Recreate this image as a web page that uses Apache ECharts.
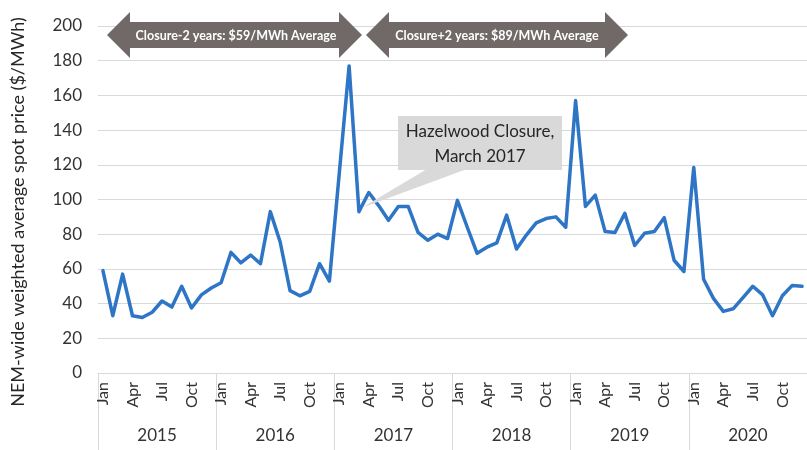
<!DOCTYPE html>
<html>
<head>
<meta charset="utf-8">
<script src="https://cdn.jsdelivr.net/npm/echarts@6/dist/echarts.min.js"></script>
<style>
  html, body { margin: 0; padding: 0; background: #fff; }
  #chart { width: 807px; height: 450px; }
</style>
</head>
<body>
<div id="chart"></div>
<script>
// Monthly NEM-wide weighted average spot price, 2015-2020 ($/MWh)
const years = ['2015', '2016', '2017', '2018', '2019', '2020'];
const monthNames = ['Jan', 'Feb', 'Mar', 'Apr', 'May', 'Jun', 'Jul', 'Aug', 'Sep', 'Oct', 'Nov', 'Dec'];
const price2015 = [59, 33, 57, 33, 32, 35, 41.5, 38, 50, 37.5, 45, 49];
const price2016 = [52, 69.5, 63.5, 68, 63, 93, 75.5, 47.5, 44.5, 47, 63, 53];
const price2017 = [115, 177, 93, 104, 96.5, 88, 96, 96, 81, 76.5, 80, 77.5];
const price2018 = [99.5, 84, 69, 72.5, 75, 91, 71.5, 79.5, 86.5, 89, 90, 84];
const price2019 = [157, 96, 102.5, 81.5, 81, 92, 73.5, 80.5, 81.5, 89.5, 65, 58.5];
const price2020 = [118.5, 54, 43, 35.5, 37, 43.5, 50, 45, 33, 44.5, 50.5, 50];
const yTicks = { min: 0, max: 200, step: 20 };
const closureLabel = ['Hazelwood Closure,', 'March 2017'];
const beforeLabel = 'Closure-2 years: $59/MWh Average';
const afterLabel = 'Closure+2 years: $89/MWh Average';

const prices = [].concat(price2015, price2016, price2017, price2018, price2019, price2020);
const monthKeys = [];
years.forEach(y => monthNames.forEach((m, i) => monthKeys.push(y + '-' + (i + 1))));

const FONT = 'Lato, "Noto Sans", sans-serif';
const GRID_COLOR = '#d9d9d9';
const TEXT_COLOR = '#333333';
const ARROW_COLOR = '#716868';

const chart = echarts.init(document.getElementById('chart'), null, { renderer: 'canvas' });

function arrowPoints(x0, x1, cy) {
  const head = 23, halfHead = 23, halfBody = 13;
  return [
    [x0, cy], [x0 + head, cy - halfHead], [x0 + head, cy - halfBody],
    [x1 - head, cy - halfBody], [x1 - head, cy - halfHead], [x1, cy],
    [x1 - head, cy + halfHead], [x1 - head, cy + halfBody],
    [x0 + head, cy + halfBody], [x0 + head, cy + halfHead]
  ];
}

const option = {
  backgroundColor: '#fff',
  animation: false,
  grid: { left: 98, top: 26, width: 720, height: 347, containLabel: false },
  xAxis: [
    {
      type: 'category',
      data: monthKeys,
      boundaryGap: true,
      axisLine: { show: true, lineStyle: { color: GRID_COLOR, width: 1 } },
      axisTick: { show: false },
      axisLabel: {
        interval: idx => idx % 3 === 0,
        rotate: 90,
        margin: 9,
        fontFamily: FONT,
        fontSize: 16,
        color: TEXT_COLOR,
        formatter: v => monthNames[Number(v.split('-')[1]) - 1]
      },
      splitLine: { show: false }
    },
    {
      type: 'category',
      data: years,
      position: 'bottom',
      boundaryGap: true,
      axisLine: { show: false },
      axisTick: { show: true, interval: 0, length: 77, lineStyle: { color: GRID_COLOR, width: 1 } },
      axisLabel: {
        interval: 0,
        margin: 54,
        fontFamily: FONT,
        fontSize: 17,
        color: TEXT_COLOR
      },
      splitLine: { show: false }
    }
  ],
  yAxis: {
    type: 'value',
    min: yTicks.min,
    max: yTicks.max,
    interval: yTicks.step,
    axisLine: { show: false },
    axisTick: { show: false },
    axisLabel: { margin: 16, fontFamily: FONT, fontSize: 17, color: TEXT_COLOR },
    splitLine: { lineStyle: { color: GRID_COLOR, width: 1 } }
  },
  series: [
    {
      type: 'line',
      xAxisIndex: 0,
      data: prices,
      showSymbol: false,
      symbol: 'none',
      lineStyle: { color: '#2e75c6', width: 3.5, cap: 'round', join: 'round' },
      itemStyle: { color: '#2e75c6' },
      z: 3
    }
  ]
};

chart.setOption(option);

// Annotations: period arrows, closure callout and the y-axis title
const tip = chart.convertToPixel({ xAxisIndex: 0, yAxisIndex: 0 }, [monthKeys[26], price2017[2]]);
chart.setOption({
  graphic: [
    {
      type: 'polygon', z: 10,
      shape: { points: arrowPoints(107, 362, 35) },
      style: { fill: ARROW_COLOR }
    },
    {
      type: 'text', z: 11, x: 236, y: 36,
      style: { text: beforeLabel, fill: '#fff', font: 'bold 12.5px ' + FONT, textAlign: 'center', textVerticalAlign: 'middle' }
    },
    {
      type: 'polygon', z: 10,
      shape: { points: arrowPoints(366, 628, 35) },
      style: { fill: ARROW_COLOR }
    },
    {
      type: 'text', z: 11, x: 497, y: 36,
      style: { text: afterLabel, fill: '#fff', font: 'bold 12.5px ' + FONT, textAlign: 'center', textVerticalAlign: 'middle' }
    },
    {
      type: 'polygon', z: 9,
      shape: { points: [[427, 169], [467, 169], [tip[0] + 3, tip[1] - 4]] },
      style: { fill: '#d9d9d9' }
    },
    {
      type: 'rect', z: 9,
      shape: { x: 398, y: 116, width: 164, height: 54 },
      style: { fill: '#d9d9d9' }
    },
    {
      type: 'text', z: 11, x: 480, y: 132,
      style: { text: closureLabel[0], fill: '#262626', font: '17px ' + FONT, textAlign: 'center', textVerticalAlign: 'middle' }
    },
    {
      type: 'text', z: 11, x: 480, y: 157,
      style: { text: closureLabel[1], fill: '#262626', font: '17px ' + FONT, textAlign: 'center', textVerticalAlign: 'middle' }
    },
    {
      type: 'text', z: 11, x: 18, y: 212, rotation: Math.PI / 2,
      style: { text: 'NEM-wide weighted average spot price ($/MWh)', fill: '#262626', font: '18px ' + FONT, textAlign: 'center', textVerticalAlign: 'middle' }
    }
  ]
});
</script>
</body>
</html>
